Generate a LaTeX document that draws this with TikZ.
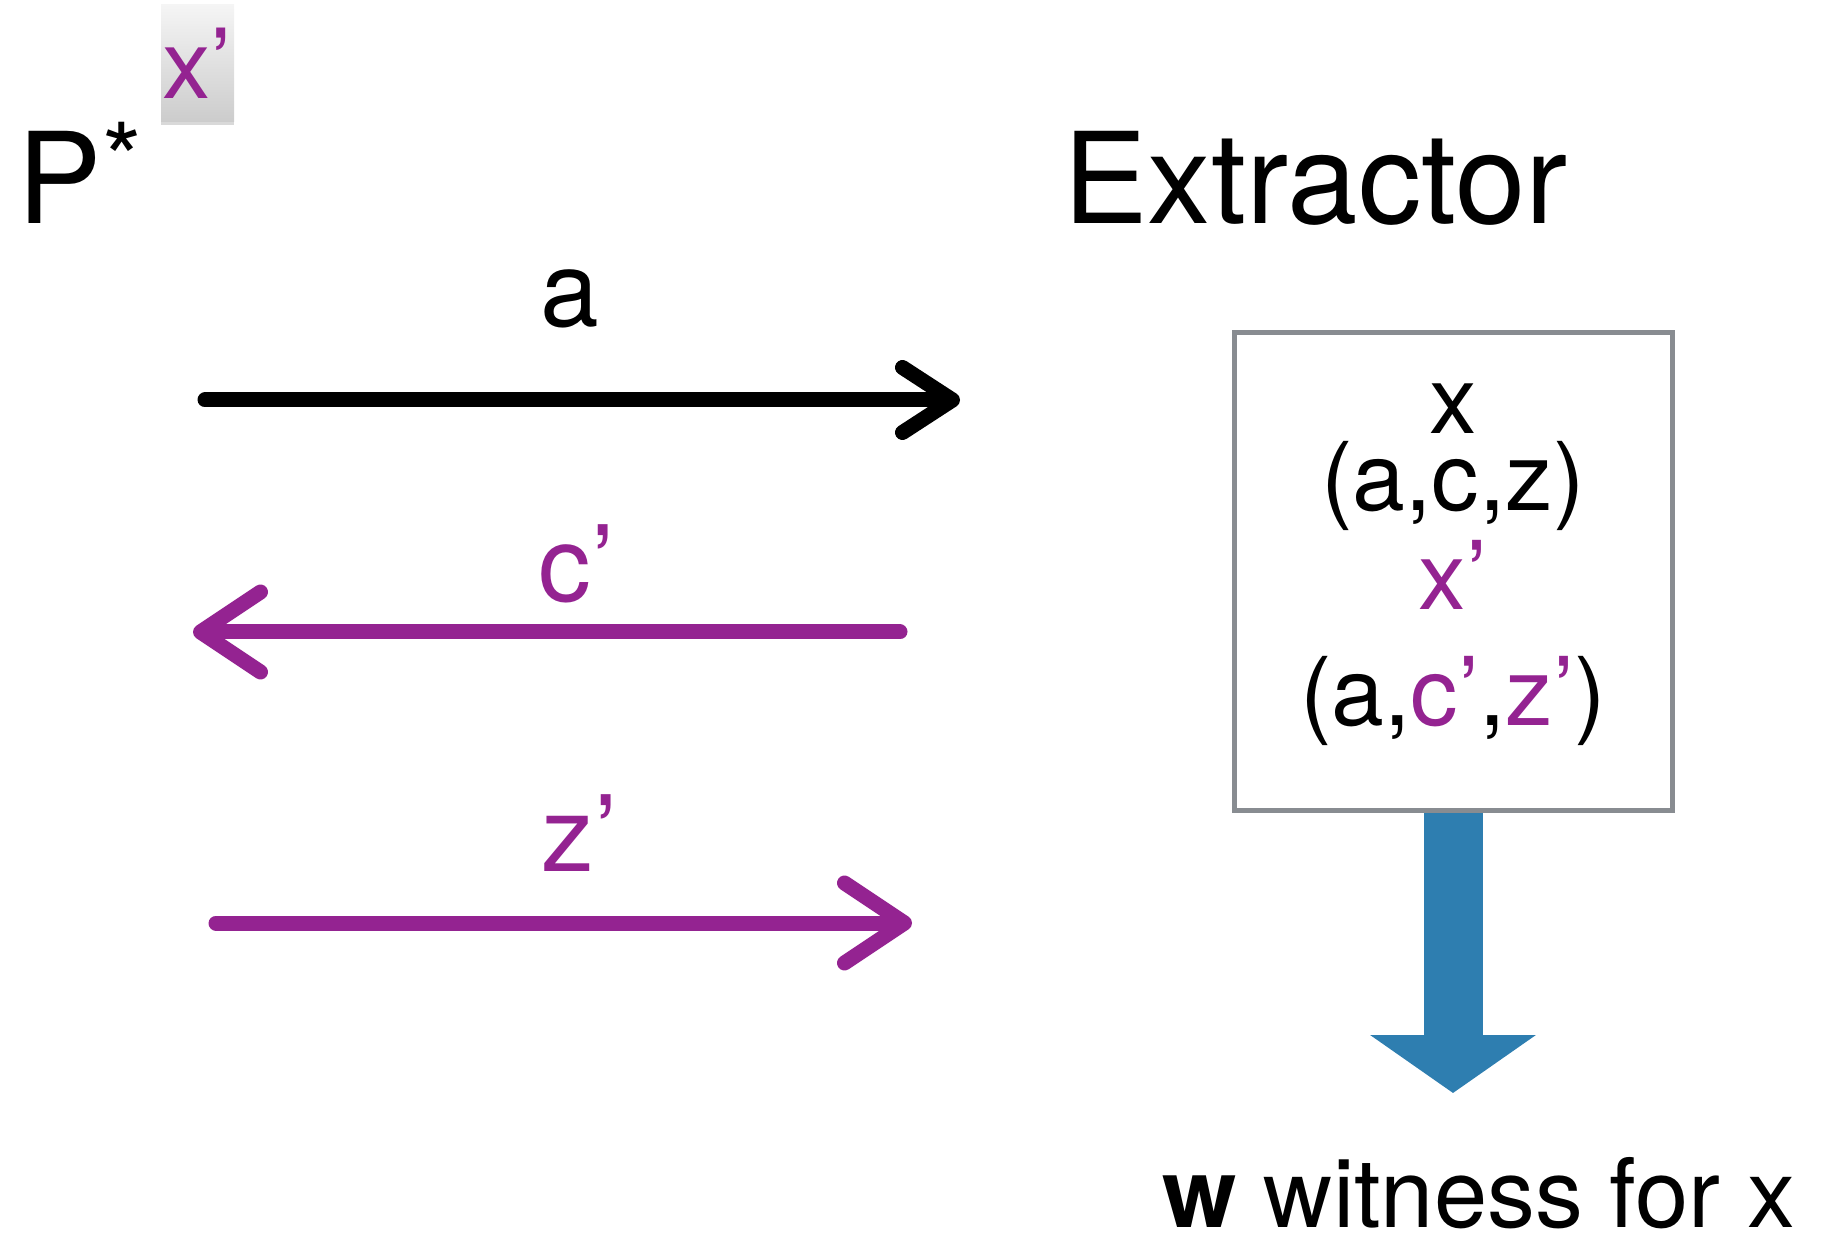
\documentclass[tikz,border=0pt]{standalone}
\usepackage{fontspec}
\setmainfont{TeX Gyre Heros}
\usetikzlibrary{arrows.meta,positioning,shadows}
\definecolor{expurple}{RGB}{148,35,145}
\definecolor{exgray}{RGB}{136,140,145}
\definecolor{exblue}{RGB}{46,126,176}

\begin{document}
\begin{tikzpicture}[
    party/.style={inner sep=0pt, anchor=base, font=\fontsize{72}{80}\selectfont},
    msglabel/.style={inner sep=0pt, anchor=base, font=\fontsize{60}{66}\selectfont},
    msg/.style={line width=0.3cm, line cap=round,
                -{Straight Barb[length=1.0cm, width=1.3cm, round]}},
    bigmsg/.style={line width=0.3cm, line cap=round, expurple,
                -{Straight Barb[length=1.2cm, width=1.6cm, round]}},
    extbox/.style={draw=exgray, line width=0.1cm, fill=white,
                   minimum width=8.76cm, minimum height=9.54cm, inner sep=0pt},
    statetext/.style={inner sep=0pt, anchor=north, align=center,
                      font=\fontsize{54}{44}\selectfont},
    tokbox/.style={top color=gray!8, bottom color=gray!40, inner sep=0pt,
                   minimum width=1.46cm, text height=1.88cm, text depth=0.46cm,
                   anchor=base, text=expurple, font=\fontsize{55}{60}\selectfont,
                   drop shadow={opacity=0.3, shadow xshift=0pt, shadow yshift=-0.06cm}},
    outarrow/.style={exblue, line width=1.18cm,
                     -{Triangle[length=1.16cm, width=3.26cm]}}
  ]
    \useasboundingbox (0,0) rectangle (36.66,-24.78);

    % parties
    \node[party, anchor=base west] (prover) at (0.35,-4.48) {P\raisebox{0.55cm}{\fontsize{58}{60}\selectfont *}};
    \node[tokbox] (tok) at (3.95,-1.98) {x’};
    \node[party] (extname) at (26.31,-4.48) {Extractor};

    % messages
    \coordinate (a0) at (4.1,-8.0);
    \coordinate (a1) at (19.2,-8.0);
    \draw[msg] (a0) -- (a1);
    \node[msglabel] (la) at (11.4,-6.54) {a};

    \coordinate (c0) at (18.0,-12.64);
    \coordinate (c1) at (3.86,-12.64);
    \draw[bigmsg] (c0) -- (c1);
    \node[msglabel, expurple] (lc) at (11.54,-12.04) {c’};

    \coordinate (z0) at (4.32,-18.46);
    \coordinate (z1) at (18.24,-18.46);
    \draw[bigmsg] (z0) -- (z1);
    \node[msglabel, expurple] (lz) at (11.6,-17.42) {z’};

    % extractor state
    \node[extbox] (extr) at (29.06,-11.43) {};
    \node[statetext] (state) at (29.06,-7.66)
      {x\\(a,c,z)\\[0.16cm]\textcolor{expurple}{x’}\\[0.78cm]
       (a,\textcolor{expurple}{c’},\textcolor{expurple}{z’})};

    % output
    \coordinate (wtip) at (29.06,-21.86);
    \draw[outarrow] (extr.south) -- (wtip);
    \node[inner sep=0pt, anchor=base, font=\fontsize{54.5}{60}\selectfont] (wit) at (29.58,-24.55) {\textbf{w} witness for x};
\end{tikzpicture}
\end{document}
